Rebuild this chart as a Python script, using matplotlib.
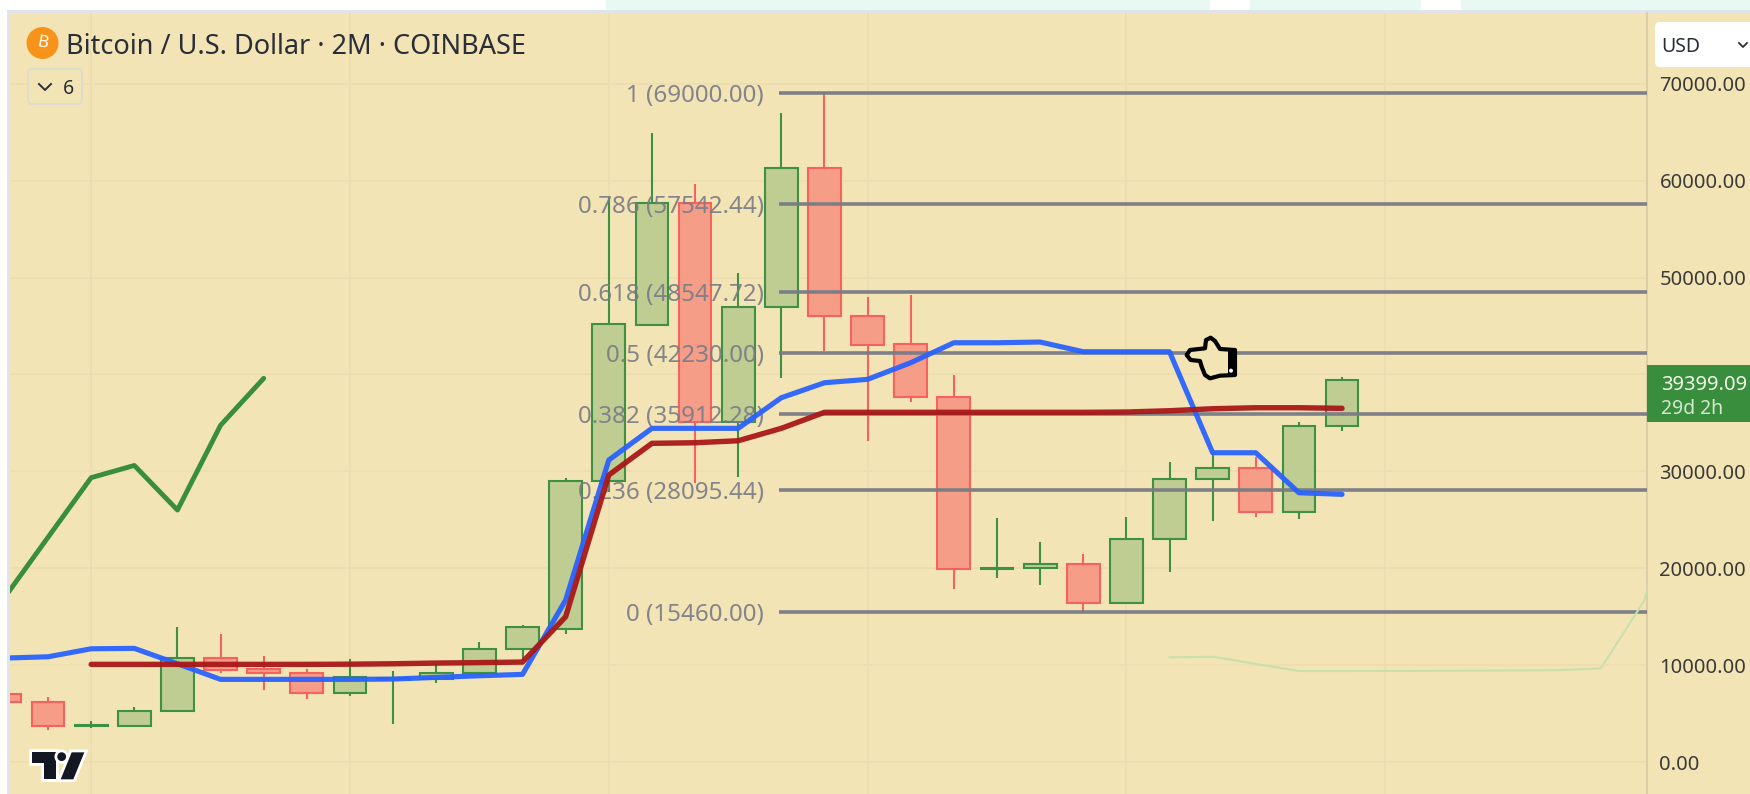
import matplotlib
matplotlib.use('Agg')
import matplotlib.pyplot as plt
from matplotlib.patches import Rectangle, Polygon, Circle, FancyBboxPatch
import matplotlib.patheffects as pe

# candles, index 0 is the cut off one at the left edge
opens = [7004, 6241, 3740, 3765, 5250, 10718, 9614, 9202, 7108, 8583, 8552, 9171, 11646, 13710, 29039, 45100,
         57654, 35063, 46988, 61265, 46060, 43109, 37642, 19950, 20033, 20446, 16454, 23056, 29214, 30349, 25841, 34651]
closes = [6179, 3765, 3850, 5282, 10718, 9542, 9171, 7108, 8789, 8686, 9233, 11646, 13916, 29039, 45173, 57654,
          35063, 46988, 61265, 46060, 43037, 37642, 19930, 20064, 20446, 16454, 23056, 29214, 30349, 25841, 34651, 39399]
highs = [7242, 6695, 4219, 5725, 13978, 13225, 10955, 9645, 10615, 9439, 9996, 12431, 14153, 29317, 58336, 64876,
         59615, 50434, 66939, 69000, 48020, 48195, 39942, 25191, 22746, 21446, 25325, 30999, 31896, 31514, 35094, 39767]
lows = [6004, 3322, 3497, 3765, 5250, 9171, 7448, 6520, 6860, 3910, 8170, 9171, 10543, 13225, 27904, 45100,
        28771, 29451, 39664, 42449, 33134, 37188, 17867, 19002, 18279, 15525, 16454, 19652, 24881, 25263, 25057, 34197]

blue = [10749, 10883, 11708, 11750, 10161, 8552, 8552, 8552, 8552, 8583, 8758, 8923, 9068, 16732, 31175, 34445,
        34445, 34445, 37601, 39148, 39499, 41212, 43274, 43274, 43347, 42346, 42346, 42346, 31927, 31927, 27801, 27636]
red_x = list(range(2, 32))
red = [10099, 10099, 10099, 10099, 10099, 10099, 10120, 10161, 10233, 10280, 10336, 15010, 29627, 32897, 32959,
       33165, 34445, 36095, 36095, 36095, 36095, 36095, 36095, 36095, 36126, 36260, 36466, 36569, 36569, 36508]
green_x = [0, 1, 2, 3, 4, 5, 6]
green = [17042, 23211, 29358, 30617, 26016, 34764, 39602]
faint_x = [27, 28, 29, 30, 31, 32, 33, 34, 35, 36, 37, 38, 39]
faint = [10821, 10883, 10146, 9408, 9408, 9420, 9430, 9450, 9470, 9500, 9687, 16629, 31000]

fib_ratio = ['1', '0.786', '0.618', '0.5', '0.382', '0.236', '0']
fib_price = [69000.00, 57542.44, 48547.72, 42230.00, 35912.28, 28095.44, 15460.00]
price_ticks = [0, 10000, 20000, 30000, 40000, 50000, 60000, 70000]
time_grid = [2, 8, 14, 20, 26, 32]

FONT = 'Noto Sans'
BG = '#f3e4b5'
GREEN, GREEN_FILL = '#3d9142', '#bfcc92'
RED, RED_FILL = '#f7625f', '#f59d87'
FIB = '#787b86'

W, H = 1750, 794
fig = plt.figure(figsize=(W / 100, H / 100), dpi=100, facecolor='white')

# page behind the chart, pixel coordinates
bg = fig.add_axes([0, 0, 1, 1], zorder=0)
bg.set_xlim(0, W)
bg.set_ylim(H, 0)
bg.axis('off')
for x0, x1 in [(606, 1210), (1250, 1421), (1461, W)]:
    bg.add_patch(Rectangle((x0, 0), x1 - x0, 10, color='#e8f9f3', lw=0))
bg.add_patch(Rectangle((7, 10), W, H, color='#e0e3eb', lw=0))
bg.add_patch(Rectangle((1647, 13), W - 1647, H, color=BG, lw=0))

ax = fig.add_axes([10 / W, 0, 1637 / W, (H - 13) / H], zorder=1)
ax.set_facecolor(BG)
ax.set_xlim(0.118, 38.07)
ax.set_ylim(-3271, 77285)
for s in ['top', 'left', 'bottom']:
    ax.spines[s].set_visible(False)
ax.spines['right'].set_color('#dccfa5')
ax.spines['right'].set_linewidth(1.5)
ax.yaxis.tick_right()
ax.set_yticks(price_ticks)
# the 40000 label sits behind the price tag in the original
ax.set_yticklabels(['' if p == 40000 else '%.2f' % p for p in price_ticks], fontsize=14.5,
                   color='#3a3a38', family=FONT, va='center_baseline')
ax.tick_params(axis='y', length=0, pad=9)
ax.set_xticks(time_grid)
ax.tick_params(axis='x', length=0, labelbottom=False)
ax.grid(True, color='#ebddb0', lw=1.2)
ax.set_axisbelow(True)

# candles
for i in range(len(opens)):
    up = closes[i] >= opens[i]
    edge = GREEN if up else RED
    fill = GREEN_FILL if up else RED_FILL
    ax.vlines(i, lows[i], highs[i], color=edge, lw=1.5, zorder=2)
    ax.bar(i, abs(closes[i] - opens[i]), bottom=min(opens[i], closes[i]), width=0.76,
           facecolor=fill, edgecolor=edge, lw=1.5, zorder=3)

# fib levels
for r, p in zip(fib_ratio, fib_price):
    ax.hlines(p, 17.95, 38.07, color=FIB, lw=2.6, alpha=0.95, zorder=4)
    ax.text(17.6, p, '%s (%.2f)' % (r, p), ha='right', va='center_baseline', fontsize=17.4,
            color=FIB, alpha=0.9, family=FONT, zorder=5)

ax.plot(faint_x, faint, color='#c9dfae', lw=1.5, zorder=4)
ax.plot(green_x, green, color='#388e3c', lw=3.5, zorder=5, solid_capstyle='round')
ax.plot(range(len(blue)), blue, color='#2962ff', lw=3.7, alpha=0.95, zorder=6, solid_capstyle='round')
ax.plot(red_x, red, color='#a81818', lw=3.9, alpha=0.95, zorder=7, solid_capstyle='round')

# overlay widgets, pixel coordinates
top = fig.add_axes([0, 0, 1, 1], zorder=2)
top.set_xlim(0, W)
top.set_ylim(H, 0)
top.axis('off')
top.patch.set_alpha(0)

top.add_patch(Circle((42.5, 43), 16, color='#f7931a', lw=0))
top.text(42.5, 43, 'B', color='white', fontsize=12, weight='bold', rotation=-12,
         ha='center', va='center', family=FONT)
top.text(66, 44, 'Bitcoin / U.S. Dollar · 2M · COINBASE', fontsize=19.5, color='#2a2e39',
         ha='left', va='center_baseline', family=FONT)

top.add_patch(FancyBboxPatch((28, 69), 54, 35, boxstyle='round,pad=0,rounding_size=4',
                             fc=BG, ec='#dcdcd0', lw=1.3))
top.plot([39, 45, 51], [84, 90, 84], color='#2a2e39', lw=1.4)
top.text(68, 87, '6', fontsize=14, color='#2a2e39', ha='center', va='center_baseline', family=FONT)

top.add_patch(FancyBboxPatch((1655, 22), 110, 45, boxstyle='round,pad=0,rounding_size=5',
                             fc='white', ec='none'))
top.text(1661, 44, 'USD', fontsize=14, color='#2a2e39', ha='left', va='center_baseline', family=FONT)
top.plot([1739, 1743, 1747], [43, 47, 43], color='#2a2e39', lw=1.3)

top.add_patch(Rectangle((1647, 365), 103, 57, color='#388e3c', lw=0))
top.text(1661, 383, '39399.09', fontsize=14.5, color='#f2f7ea', ha='left', va='center_baseline',
         family=FONT, weight='bold')
top.text(1661, 407, '29d 2h', fontsize=14, color='#d5e8cf', ha='left', va='center_baseline', family=FONT)

# tradingview logo
halo = [pe.withStroke(linewidth=4, foreground='white')]
def logo(pts):
    return [(20 + px / 3, 740 + py / 3) for px, py in pts]
t_bar = Polygon(logo([(37, 37), (108, 37), (108, 118), (72, 118), (72, 68), (37, 68)]), fc='#131722', ec='none')
t_slash = Polygon(logo([(155, 37), (193, 37), (160, 118), (122, 118)]), fc='#131722', ec='none')
for p in (t_bar, t_slash):
    p.set_path_effects(halo)
    top.add_patch(p)
dot = Circle((20 + 125 / 3, 740 + 50 / 3), 4.4, fc='#131722', ec='none')
dot.set_path_effects(halo)
top.add_patch(dot)

# pointing hand
def hand(pts):
    return [(1170 + px / 3, 325 + py / 3) for px, py in pts]
top.add_patch(Polygon(hand([(60, 75), (105, 70), (108, 45), (122, 38), (135, 48), (150, 72), (195, 75), (195, 150),
                            (150, 152), (120, 160), (105, 150), (95, 125), (90, 108), (62, 105), (50, 90)]),
                      fc=BG, ec='black', lw=3, joinstyle='round'))
top.add_patch(Rectangle((1170 + 175 / 3, 325 + 75 / 3), 23 / 3, 25, color='black', lw=0))
top.add_patch(Circle((1170 + 183 / 3, 325 + 137 / 3), 2, color='white', lw=0))

fig.savefig('out.png', dpi=100)
